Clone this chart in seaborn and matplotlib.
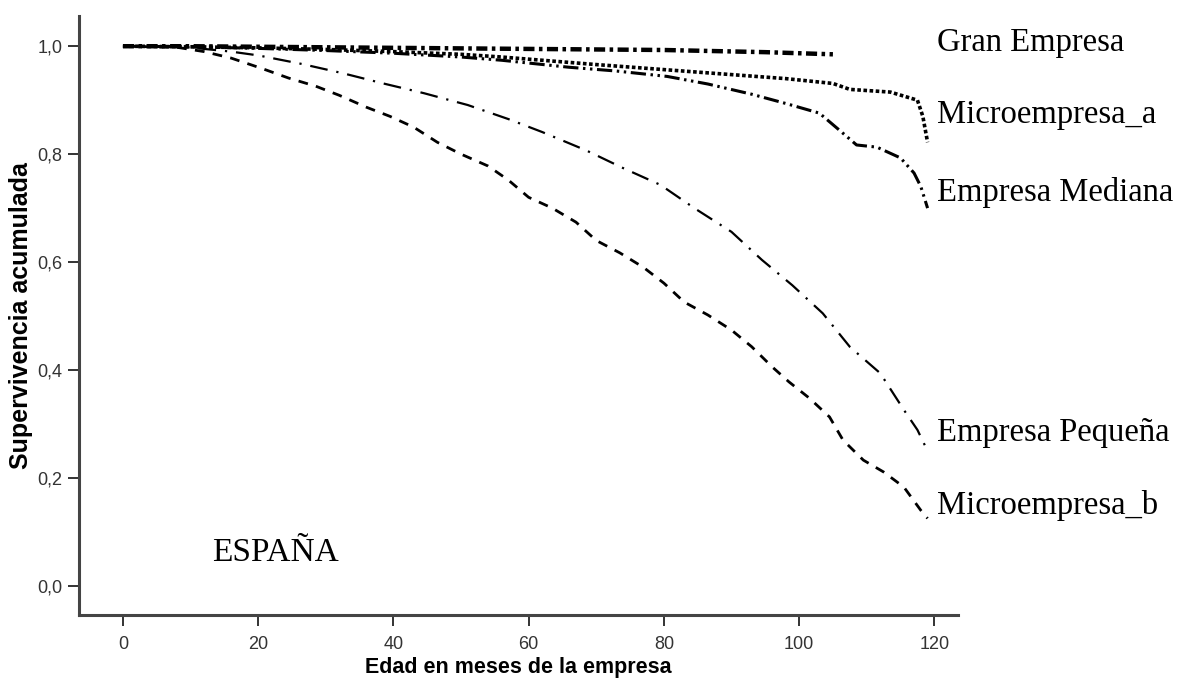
import matplotlib
matplotlib.use("Agg")
import matplotlib.pyplot as plt
import seaborn as sns
import pandas as pd

# curvas de supervivencia
gran_x = [0, 10, 20, 40, 60, 80, 95, 105]
gran_y = [1.0, 1.0, 0.999, 0.997, 0.995, 0.993, 0.989, 0.985]

micro_a_x = [0, 10, 20, 30, 40, 50, 56, 70, 85, 98, 105, 107.5, 113.5, 117.5, 118.3, 119]
micro_a_y = [1.0, 0.999, 0.997, 0.994, 0.99, 0.985, 0.98, 0.966, 0.952, 0.94, 0.931,
             0.92, 0.915, 0.90, 0.87, 0.822]

mediana_x = [0, 10, 20, 30, 40, 50, 56, 66, 73, 80.5, 86.5, 93, 98, 103, 106, 108.5,
             111.5, 115, 117, 118, 119]
mediana_y = [1.0, 0.999, 0.996, 0.992, 0.987, 0.98, 0.974, 0.961, 0.954, 0.944, 0.93,
             0.911, 0.894, 0.876, 0.844, 0.817, 0.813, 0.793, 0.765, 0.74, 0.70]

pequena_x = [0, 8, 12, 16, 20, 26.5, 32.5, 38.5, 44.5, 51, 57, 62, 68.5, 74, 79.5, 84.5,
             90, 94.5, 99, 103.5, 107.5, 112, 115.5, 117.5, 119]
pequena_y = [1.0, 1.0, 0.995, 0.99, 0.983, 0.967, 0.95, 0.931, 0.913, 0.891, 0.865, 0.841,
             0.807, 0.774, 0.743, 0.70, 0.656, 0.604, 0.557, 0.505, 0.443, 0.394, 0.326,
             0.289, 0.25]

micro_b_x = [0, 8, 12, 16, 20.5, 24.5, 28.5, 32, 36, 39.5, 43, 46.5, 50, 54, 57, 60, 63.5,
             67, 70, 73.5, 77, 80, 83, 86.5, 90, 93, 96, 98.5, 101.5, 104.5, 106.5, 109.5,
             112.5, 115.5, 118, 119]
micro_b_y = [1.0, 0.998, 0.99, 0.978, 0.959, 0.941, 0.926, 0.909, 0.887, 0.87, 0.85, 0.822,
             0.80, 0.778, 0.752, 0.72, 0.70, 0.674, 0.64, 0.617, 0.59, 0.561, 0.526, 0.502,
             0.474, 0.443, 0.406, 0.378, 0.348, 0.313, 0.27, 0.233, 0.211, 0.183, 0.14, 0.125]

x_ticks = [0, 20, 40, 60, 80, 100, 120]
y_ticks = [0.0, 0.2, 0.4, 0.6, 0.8, 1.0]

series = [
    ("Gran Empresa", gran_x, gran_y, 3.2, (2.5, 1.0, 0.8, 1.0)),
    ("Microempresa_a", micro_a_x, micro_a_y, 2.6, (1.0, 0.7)),
    ("Empresa Mediana", mediana_x, mediana_y, 2.2, (5, 1.5, 0.8, 1.5, 0.8, 1.5)),
    ("Empresa Pequeña", pequena_x, pequena_y, 1.6, (8, 4, 1, 4)),
    ("Microempresa_b", micro_b_x, micro_b_y, 2.0, (3.5, 3.0)),
]
label_y = {"Gran Empresa": 1.007, "Microempresa_a": 0.873, "Empresa Mediana": 0.729,
           "Empresa Pequeña": 0.284, "Microempresa_b": 0.149}

sns.set_style("ticks")
plt.rcParams['font.family'] = ['Liberation Sans', 'DejaVu Sans']

fig = plt.figure(figsize=(11.85, 6.84), dpi=100)
ax = fig.add_axes([79 / 1185, 1 - 615 / 684, (958 - 79) / 1185, (615 - 16) / 684])

for name, xs, ys, lw, dash in series:
    df = pd.DataFrame({"x": xs, "y": ys})
    sns.lineplot(data=df, x="x", y="y", ax=ax, color="black", linewidth=lw,
                 dashes=False, estimator=None, sort=False)
    ax.lines[-1].set_dashes(dash)
    ax.text(120.4, label_y[name], name, fontsize=23.5, family=['Liberation Serif'],
            color='black', va='center', ha='left', clip_on=False)

ax.text(13.2, 0.062, "ESPAÑA", fontsize=24, family=['Liberation Serif'],
        color='black', va='center', ha='left')

ax.set_xlim(-6.5, 123.5)
ax.set_ylim(-0.054, 1.056)
ax.set_xticks(x_ticks)
ax.set_xticklabels([str(v) for v in x_ticks])
ax.set_yticks(y_ticks)
ax.set_yticklabels([f"{v:.1f}".replace(".", ",") for v in y_ticks])
ax.tick_params(axis='both', labelsize=13, colors='#333333', length=8, width=1.4,
               direction='out')
ax.tick_params(axis='x', pad=7)
ax.tick_params(axis='y', pad=4)
for side in ['top', 'right']:
    ax.spines[side].set_visible(False)
for side in ['left', 'bottom']:
    ax.spines[side].set_linewidth(2.2)
    ax.spines[side].set_color('#444444')

ax.set_xlabel("Edad en meses de la empresa", fontsize=15.5, fontweight='bold',
              color='black', labelpad=3)
ax.set_ylabel("Supervivencia acumulada", fontsize=18, fontweight='bold',
              color='black', labelpad=3)

fig.savefig("out.png", dpi=100)
